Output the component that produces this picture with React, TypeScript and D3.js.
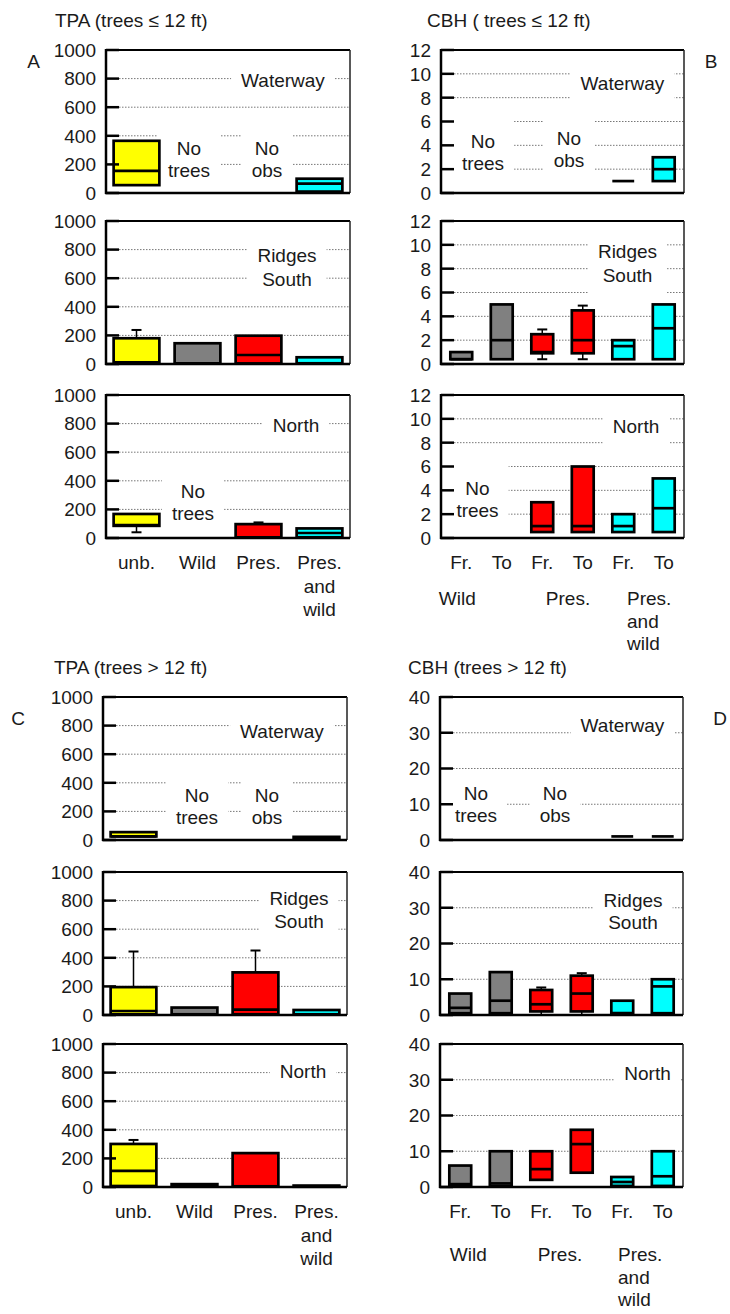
import React, { useEffect, useRef } from "react";
import * as d3 from "d3";

// ---------- data ----------
const tpaCategories = ["unb.", "Wild", "Pres.", "Pres.|and|wild"];
const cbhCategories = ["Fr.", "To", "Fr.", "To", "Fr.", "To"];
const cbhGroups = ["Wild", "Pres.", "Pres.|and|wild"];
const tpaTicks = [0, 200, 400, 600, 800, 1000];
const cbhSmallTicks = [0, 2, 4, 6, 8, 10, 12];
const cbhLargeTicks = [0, 10, 20, 30, 40];
const tpaColors = ["#ffff00", "#808080", "#ff0000", "#00ffff"];
const cbhColors = ["#808080", "#808080", "#ff0000", "#ff0000", "#00ffff", "#00ffff"];
const sites = ["Waterway", "Ridges|South", "North"];
const noTrees = "No|trees";
const noObs = "No|obs";

// [category index, whisker low, q1, median, q3, whisker high]
type Box = [number, number | null, number, number, number, number | null];

const tpaSmallWaterway: Box[] = [
  [0, null, 55, 155, 365, null],
  [3, null, 10, 65, 100, null],
];
const tpaSmallRidges: Box[] = [
  [0, null, 8, 12, 180, 238],
  [1, null, 4, 4, 145, null],
  [2, null, 4, 63, 198, null],
  [3, null, 5, 5, 47, null],
];
const tpaSmallNorth: Box[] = [
  [0, 40, 85, 90, 168, null],
  [2, null, 4, 4, 97, 109],
  [3, null, 5, 35, 67, null],
];

const cbhSmallWaterway: Box[] = [
  [4, null, 1, 1, 1, null],
  [5, null, 1, 2, 3, null],
];
const cbhSmallRidges: Box[] = [
  [0, null, 0.4, 0.4, 1.0, null],
  [1, null, 0.4, 2, 5, null],
  [2, 0.4, 0.9, 1, 2.5, 2.9],
  [3, 0.4, 0.9, 2, 4.5, 4.9],
  [4, null, 0.4, 1.5, 2, null],
  [5, null, 0.4, 3, 5, null],
];
const cbhSmallNorth: Box[] = [
  [2, null, 0.5, 1, 3, null],
  [3, null, 0.5, 1, 6, null],
  [4, null, 0.5, 1, 2, null],
  [5, null, 0.5, 2.5, 5, null],
];

const tpaLargeWaterway: Box[] = [
  [0, null, 25, 25, 55, null],
  [3, null, 3, 3, 22, null],
];
const tpaLargeRidges: Box[] = [
  [0, null, 5, 28, 195, 444],
  [1, null, 5, 5, 52, null],
  [2, null, 5, 37, 298, 451],
  [3, null, 5, 5, 35, null],
];
const tpaLargeNorth: Box[] = [
  [0, null, 7, 113, 301, 329],
  [1, null, 3, 3, 20, null],
  [2, null, 5, 5, 237, null],
  [3, null, 2, 2, 10, null],
];

const cbhLargeWaterway: Box[] = [
  [4, null, 1, 1, 1, null],
  [5, null, 1, 1, 1, null],
];
const cbhLargeRidges: Box[] = [
  [0, null, 0.5, 2, 6, null],
  [1, null, 0.5, 4, 12, null],
  [2, 0, 1, 3, 7, 7.7],
  [3, 0, 1, 6, 11, 11.7],
  [4, null, 0.5, 0.5, 4, null],
  [5, null, 0.5, 8, 10, null],
];
const cbhLargeNorth: Box[] = [
  [0, null, 0.3, 0.8, 6, null],
  [1, null, 0.3, 1, 10, null],
  [2, null, 2, 5, 10, null],
  [3, null, 4, 12, 16, null],
  [4, null, 0.3, 1.4, 2.8, null],
  [5, null, 0.3, 3, 10, null],
];

// ---------- layout ----------
const FONT = "'Liberation Sans', Arial, Helvetica, sans-serif";
const FS = 19;
const TEXT = "#1a1a1a";
const H = 143;

type Note = { text: string; dx: number; dy: number; lh?: number };
type Panel = {
  title: string; titleX: number; titleY: number;
  letter: string; letterX: number; letterY: number;
  x0: number; x1: number; tops: number[]; max: number; ticks: number[];
  cats: string[]; colors: string[]; pad: number; series: Box[][];
  notes: Note[][];
  groupOffset?: number; groupDx?: number[];
};

const panels: Panel[] = [
  {
    title: "TPA (trees ≤ 12 ft)", titleX: 55, titleY: 27, letter: "A", letterX: 33.5, letterY: 68,
    x0: 106, x1: 350, tops: [50, 221, 395], max: 1000, ticks: tpaTicks,
    cats: tpaCategories, colors: tpaColors, pad: 0.25,
    series: [tpaSmallWaterway, tpaSmallRidges, tpaSmallNorth],
    notes: [
      [{ text: sites[0], dx: 177, dy: 37 }, { text: noTrees, dx: 83, dy: 105 }, { text: noObs, dx: 161, dy: 105 }],
      [{ text: sites[1], dx: 181, dy: 41, lh: 24 }],
      [{ text: sites[2], dx: 190, dy: 37 }, { text: noTrees, dx: 87, dy: 103 }],
    ],
  },
  {
    title: "CBH ( trees ≤ 12 ft)", titleX: 427, titleY: 27, letter: "B", letterX: 711, letterY: 68,
    x0: 441, x1: 684, tops: [50, 221, 395], max: 12, ticks: cbhSmallTicks,
    cats: cbhCategories, colors: cbhColors, pad: 0.46,
    series: [cbhSmallWaterway, cbhSmallRidges, cbhSmallNorth],
    notes: [
      [{ text: sites[0], dx: 181.5, dy: 40 }, { text: noTrees, dx: 42, dy: 98 }, { text: noObs, dx: 128, dy: 95 }],
      [{ text: sites[1], dx: 186.5, dy: 37, lh: 24 }],
      [{ text: sites[2], dx: 195, dy: 38 }, { text: noTrees, dx: 36.5, dy: 100 }],
    ],
    groupOffset: 67, groupDx: [-4, 5.5, 24],
  },
  {
    title: "TPA (trees > 12 ft)", titleX: 54, titleY: 674, letter: "C", letterX: 18, letterY: 725,
    x0: 103, x1: 347, tops: [697, 872, 1044], max: 1000, ticks: tpaTicks,
    cats: tpaCategories, colors: tpaColors, pad: 0.25,
    series: [tpaLargeWaterway, tpaLargeRidges, tpaLargeNorth],
    notes: [
      [{ text: sites[0], dx: 179, dy: 41 }, { text: noTrees, dx: 94, dy: 105 }, { text: noObs, dx: 164, dy: 105 }],
      [{ text: sites[1], dx: 196, dy: 33, lh: 23 }],
      [{ text: sites[2], dx: 200, dy: 34 }],
    ],
  },
  {
    title: "CBH (trees > 12 ft)", titleX: 408, titleY: 674, letter: "D", letterX: 720, letterY: 725,
    x0: 440, x1: 683, tops: [697, 872, 1044], max: 40, ticks: cbhLargeTicks,
    cats: cbhCategories, colors: cbhColors, pad: 0.46,
    series: [cbhLargeWaterway, cbhLargeRidges, cbhLargeNorth],
    notes: [
      [{ text: sites[0], dx: 182.5, dy: 35 }, { text: noTrees, dx: 36, dy: 103 }, { text: noObs, dx: 115, dy: 103 }],
      [{ text: sites[1], dx: 193, dy: 35, lh: 22 }],
      [{ text: sites[2], dx: 207.5, dy: 36 }],
    ],
    groupOffset: 74, groupDx: [8, -1.5, 16],
  },
];

function drawPanel(root: d3.Selection<SVGGElement, unknown, null, undefined>, p: Panel) {
  const n = p.cats.length;
  const x = d3.scaleBand<number>().domain(d3.range(n)).range([p.x0, p.x1])
    .paddingInner(p.pad).paddingOuter(p.pad / 2);
  const bw = x.bandwidth();
  const step = x.step();

  root.append("text").attr("x", p.titleX).attr("y", p.titleY).text(p.title)
    .attr("font-size", FS).attr("fill", TEXT);
  root.append("text").attr("x", p.letterX).attr("y", p.letterY).text(p.letter)
    .attr("font-size", FS).attr("fill", TEXT).attr("text-anchor", "middle");

  p.tops.forEach((top, si) => {
    const y = d3.scaleLinear().domain([0, p.max]).range([top + H, top]);
    const g = root.append("g");
    const bottom = top + H;

    // gridlines
    g.selectAll("line.grid").data(p.ticks.filter((t) => t > 0 && t < p.max)).enter()
      .append("line").attr("class", "grid")
      .attr("x1", p.x0 + 13).attr("x2", p.x1)
      .attr("y1", (d) => y(d)).attr("y2", (d) => y(d))
      .attr("stroke", "#777").attr("stroke-width", 1).attr("stroke-dasharray", "1.5,1.5");

    // notes with white background
    p.notes[si].forEach((nt) => {
      const lines = nt.text.split("|");
      const lh = nt.lh ?? 22;
      const ng = g.append("g");
      const bg = ng.append("rect").attr("fill", "#fff");
      const cx = p.x0 + nt.dx;
      const by = top + nt.dy;
      let maxW = 0;
      lines.forEach((ln, i) => {
        const t = ng.append("text").attr("x", cx).attr("y", by + i * lh)
          .attr("text-anchor", "middle").attr("font-size", FS).attr("fill", TEXT).text(ln);
        const node = t.node() as SVGTextElement;
        const w = node.getComputedTextLength ? node.getComputedTextLength() : ln.length * 10;
        maxW = Math.max(maxW, w);
      });
      const yTop = Math.max(by - 29, top + 2);
      const yBot = by + (lines.length - 1) * lh + 12;
      bg.attr("x", cx - maxW / 2 - 10).attr("width", maxW + 20)
        .attr("y", yTop).attr("height", yBot - yTop);
    });

    // boxes
    const data = p.series[si];
    const bx = g.selectAll("g.box").data(data).enter().append("g").attr("class", "box");
    bx.filter((d) => d[5] !== null).each(function (d) {
      const c = (x(d[0]) as number) + bw / 2;
      const s = d3.select(this);
      s.append("line").attr("x1", c).attr("x2", c).attr("y1", y(d[4])).attr("y2", y(d[5] as number))
        .attr("stroke", "#000").attr("stroke-width", 1.5);
      s.append("line").attr("x1", c - 5).attr("x2", c + 5).attr("y1", y(d[5] as number)).attr("y2", y(d[5] as number))
        .attr("stroke", "#000").attr("stroke-width", 2);
    });
    bx.filter((d) => d[1] !== null).each(function (d) {
      const c = (x(d[0]) as number) + bw / 2;
      const s = d3.select(this);
      s.append("line").attr("x1", c).attr("x2", c).attr("y1", y(d[2])).attr("y2", y(d[1] as number))
        .attr("stroke", "#000").attr("stroke-width", 1.5);
      s.append("line").attr("x1", c - 5).attr("x2", c + 5).attr("y1", y(d[1] as number)).attr("y2", y(d[1] as number))
        .attr("stroke", "#000").attr("stroke-width", 2);
    });
    bx.append("rect")
      .attr("x", (d) => x(d[0]) as number).attr("width", bw)
      .attr("y", (d) => y(d[4])).attr("height", (d) => Math.max(0, y(d[2]) - y(d[4])))
      .attr("fill", (d) => p.colors[d[0]]).attr("stroke", "#000").attr("stroke-width", 2.7);
    bx.append("line")
      .attr("x1", (d) => x(d[0]) as number).attr("x2", (d) => (x(d[0]) as number) + bw)
      .attr("y1", (d) => y(d[3])).attr("y2", (d) => y(d[3]))
      .attr("stroke", "#000").attr("stroke-width", 2.7);

    // frame
    g.append("line").attr("x1", p.x0).attr("x2", p.x1).attr("y1", top).attr("y2", top)
      .attr("stroke", "#000").attr("stroke-width", 2);
    g.append("line").attr("x1", p.x1).attr("x2", p.x1).attr("y1", top).attr("y2", bottom)
      .attr("stroke", "#222").attr("stroke-width", 1.5);
    g.append("line").attr("x1", p.x0 - 1).attr("x2", p.x1).attr("y1", bottom).attr("y2", bottom)
      .attr("stroke", "#000").attr("stroke-width", 2.5);
    g.append("line").attr("x1", p.x0).attr("x2", p.x0).attr("y1", top - 1).attr("y2", bottom + 1)
      .attr("stroke", "#000").attr("stroke-width", 2.5);

    // ticks
    g.selectAll("line.tick").data(p.ticks).enter().append("line").attr("class", "tick")
      .attr("x1", p.x0).attr("x2", p.x0 + 13)
      .attr("y1", (d) => y(d)).attr("y2", (d) => y(d))
      .attr("stroke", "#000").attr("stroke-width", 2.5);
    g.selectAll("text.tl").data(p.ticks).enter().append("text").attr("class", "tl")
      .attr("x", p.x0 - 10).attr("y", (d) => y(d)).attr("dy", "0.36em")
      .attr("text-anchor", "end").attr("font-size", FS).attr("fill", TEXT)
      .text((d) => String(d));

    // category labels under the last subplot
    if (si === p.tops.length - 1) {
      p.cats.forEach((cat, ci) => {
        const c = (x(ci) as number) + bw / 2;
        cat.split("|").forEach((ln, li) => {
          g.append("text").attr("x", c).attr("y", bottom + 31 + li * 23.5)
            .attr("text-anchor", "middle").attr("font-size", FS).attr("fill", TEXT).text(ln);
        });
      });
      if (p.groupOffset !== undefined && p.groupDx) {
        const gy = bottom + p.groupOffset;
        const anchors = [
          { x: (x(0) as number) + bw / 2 + p.groupDx[0], a: "middle" },
          { x: p.x0 + 3 * step + p.groupDx[1], a: "middle" },
          { x: p.x0 + 4 * step + p.groupDx[2], a: "start" },
        ];
        cbhGroups.forEach((gl, gi) => {
          gl.split("|").forEach((ln, li) => {
            g.append("text").attr("x", anchors[gi].x).attr("y", gy + li * 22.5)
              .attr("text-anchor", anchors[gi].a).attr("font-size", FS).attr("fill", TEXT).text(ln);
          });
        });
      }
    }
  });
}

export default function App() {
  const ref = useRef<SVGSVGElement>(null);
  useEffect(() => {
    if (!ref.current) return;
    const svg = d3.select(ref.current);
    svg.selectAll("*").remove();
    svg.append("rect").attr("width", 730).attr("height", 1314).attr("fill", "#fff");
    const root = svg.append("g").attr("font-family", FONT);
    panels.forEach((p) => drawPanel(root as any, p));
  }, []);
  return (
    <svg
      ref={ref}
      width={730}
      height={1314}
      style={{ position: "absolute", left: 0, top: 0, display: "block", background: "#fff" }}
    />
  );
}
